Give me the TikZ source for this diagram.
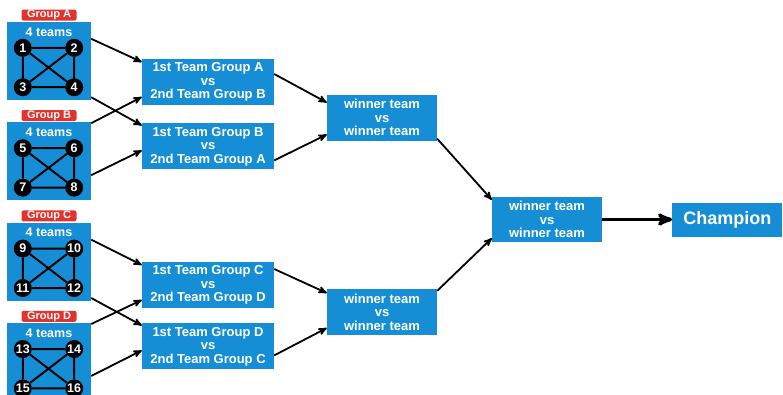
\documentclass[tikz,border=0pt]{standalone}
\usepackage{fontspec}
\setmainfont{Liberation Sans}
\usetikzlibrary{arrows}
\usetikzlibrary{positioning}
\usetikzlibrary{calc}
\definecolor{boxblue}{RGB}{22,142,214}
\definecolor{tagred}{RGB}{226,52,46}

\begin{document}
\begin{tikzpicture}[x=1pt,y=-1pt,>=stealth',node distance=22pt]
\tikzstyle{grp}=[fill=boxblue,minimum width=84pt,minimum height=78pt,inner sep=0pt]
\tikzstyle{tag}=[fill=tagred,rounded corners=2pt,text=white,font=\bfseries\fontsize{11}{11}\selectfont,minimum width=55pt,minimum height=11pt,inner sep=0pt]
\tikzstyle{teams}=[text=white,font=\bfseries\fontsize{12.5}{12.5}\selectfont,inner sep=0pt]
\tikzstyle{team}=[circle,fill=black,text=white,font=\bfseries\fontsize{12.5}{12.5}\selectfont,minimum size=18pt,inner sep=0pt]
\tikzstyle{kedge}=[line width=2pt]
\tikzstyle{bstep}=[fill=boxblue,text=white,align=center,font=\bfseries\fontsize{13}{13.5}\selectfont,inner sep=0pt]
\tikzstyle{match}=[bstep,minimum width=132pt,minimum height=46pt]
\tikzstyle{win}=[bstep,minimum width=110pt,minimum height=46pt]
\tikzstyle{champ}=[bstep,minimum width=110pt,minimum height=34pt,font=\bfseries\fontsize{18}{18}\selectfont]
\tikzstyle{adv}=[->,line width=1.8pt]

\useasboundingbox (0,0) rectangle (783,394);

% groups
\node[grp] (gA) at (49,61) {};
\node[grp,below=of gA] (gB) {};
\node[grp,below=of gB] (gC) {};
\node[grp,below=of gC] (gD) {};
\node[tag,above=1pt of gA] (tagA) {Group A};
\node[tag,above=1pt of gB] (tagB) {Group B};
\node[tag,above=1pt of gC] (tagC) {Group C};
\node[tag,above=1pt of gD] (tagD) {Group D};
\node[teams] (nA) at ($(gA.north)+(0,10)$) {4 teams};
\node[teams] (nB) at ($(gB.north)+(0,10)$) {4 teams};
\node[teams] (nC) at ($(gC.north)+(0,10)$) {4 teams};
\node[teams] (nD) at ($(gD.north)+(0,10)$) {4 teams};

\node[team] (a1) at ($(gA.north west)+(16,26)$) {1};
\node[team,right=33pt of a1] (a2) {2};
\node[team,below=21pt of a1] (a3) {3};
\node[team,right=33pt of a3] (a4) {4};
\draw[kedge] (a1) -- (a2) -- (a4) -- (a3) -- (a1) -- (a4) (a2) -- (a3);

\node[team] (b1) at ($(gB.north west)+(16,26)$) {5};
\node[team,right=33pt of b1] (b2) {6};
\node[team,below=21pt of b1] (b3) {7};
\node[team,right=33pt of b3] (b4) {8};
\draw[kedge] (b1) -- (b2) -- (b4) -- (b3) -- (b1) -- (b4) (b2) -- (b3);

\node[team] (c1) at ($(gC.north west)+(16,26)$) {9};
\node[team,right=33pt of c1] (c2) {10};
\node[team,below=21pt of c1] (c3) {11};
\node[team,right=33pt of c3] (c4) {12};
\draw[kedge] (c1) -- (c2) -- (c4) -- (c3) -- (c1) -- (c4) (c2) -- (c3);

\node[team] (d1) at ($(gD.north west)+(16,26)$) {13};
\node[team,right=33pt of d1] (d2) {14};
\node[team,below=21pt of d1] (d3) {15};
\node[team,right=33pt of d3] (d4) {16};
\draw[kedge] (d1) -- (d2) -- (d4) -- (d3) -- (d1) -- (d4) (d2) -- (d3);

% first round
\node[match] (m1) at (208,82) {1st Team Group A\\vs\\2nd Team Group B};
\node[match,below=18pt of m1] (m2) {1st Team Group B\\vs\\2nd Team Group A};
\node[match] (m3) at (208,285) {1st Team Group C\\vs\\2nd Team Group D};
\node[match,below=15pt of m3] (m4) {1st Team Group D\\vs\\2nd Team Group C};

\draw[adv] ($(gA.north east)+(0,17)$) -- ($(m1.west)+(0,-20)$);
\draw[adv] ($(gA.south east)+(0,-3)$) -- ($(m2.west)+(0,-21)$);
\draw[adv] ($(gB.north east)+(0,1)$) -- ($(m1.west)+(0,15)$);
\draw[adv] ($(gB.north east)+(0,53)$) -- ($(m2.west)+(0,4)$);
\draw[adv] ($(gC.north east)+(0,17)$) -- ($(m3.west)+(0,-20)$);
\draw[adv] ($(gC.south east)+(0,-3)$) -- ($(m4.west)+(0,-21)$);
\draw[adv] ($(gD.north east)+(0,1)$) -- ($(m3.west)+(0,15)$);
\draw[adv] ($(gD.north east)+(0,53)$) -- ($(m4.west)+(0,4)$);

% semi and final
\node[win] (w1) at (382,117.5) {winner team\\vs\\winner team};
\node[win] (w2) at (382,312) {winner team\\vs\\winner team};
\node[win,minimum height=45pt] (fin) at (547,219.5) {winner team\\vs\\winner team};
\node[champ,right=70pt of fin] (champ) {Champion};

\draw[adv] ($(m1.east)+(0,-8)$) -- ($(w1.west)+(0,-15)$);
\draw[adv] ($(m2.east)+(0,14)$) -- ($(w1.west)+(0,17)$);
\draw[adv] ($(m3.east)+(0,-16)$) -- ($(w2.west)+(0,-19)$);
\draw[adv] ($(m4.east)+(0,9)$) -- ($(w2.west)+(0,16)$);
\draw[adv] ($(w1.south east)+(0,-2)$) -- ($(fin.north west)+(0,3)$);
\draw[adv] ($(w2.north east)+(0,2)$) -- ($(fin.south west)+(0,-4)$);
\draw[->,line width=3.5pt] (fin) -- (champ);
\end{tikzpicture}
\end{document}
